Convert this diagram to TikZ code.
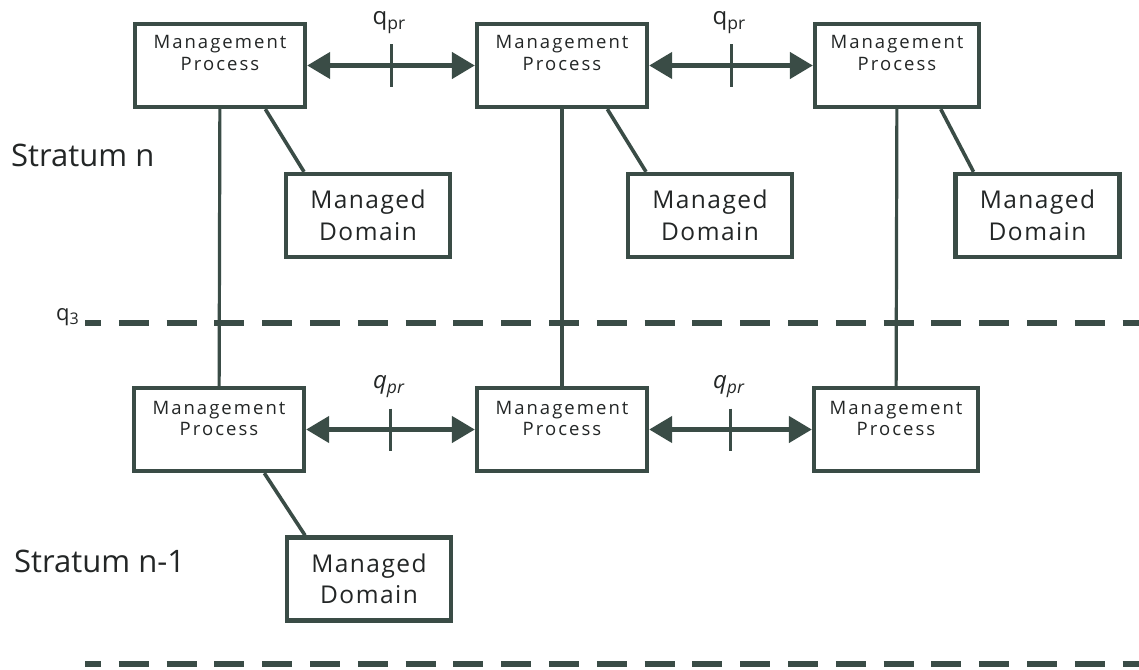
\documentclass[tikz,border=0pt]{standalone}
\usepackage{fontspec}
\setmainfont{Open Sans}
\usetikzlibrary{arrows.meta,calc}
\definecolor{ink}{RGB}{58,76,70}
\definecolor{txt}{RGB}{35,38,38}

\begin{document}
\begin{tikzpicture}[x=1pt,y=-1pt,
  box/.style={draw=ink, line width=4.3pt, fill=white, inner sep=0pt},
  mp/.style={box, minimum width=170pt, minimum height=83pt},
  md/.style={box, minimum width=164pt, minimum height=83pt,
    font=\fontsize{24.5}{31.5}\selectfont\addfontfeature{LetterSpace=6}, text=txt, align=center},
  mptext/.style={font=\fontsize{18.5}{21.5}\selectfont\addfontfeature{LetterSpace=11}, text=txt, align=center, inner sep=0pt, anchor=north},
  stratum/.style={font=\fontsize{31}{33}\selectfont, text=txt, anchor=base west, inner sep=0pt},
  qlab/.style={font=\fontsize{24}{26}\selectfont, text=txt, anchor=base, inner sep=0pt},
  link/.style={draw=ink, line width=3.2pt},
  diag/.style={draw=ink, line width=3.6pt},
  biarrow/.style={draw=ink, line width=4.5pt, {Triangle[length=23pt,width=26pt]}-{Triangle[length=23pt,width=26pt]}},
  tick/.style={draw=ink, line width=3pt},
  stratumline/.style={draw=ink, line width=6pt, dash pattern=on 30pt off 17.8pt, dash phase=14pt}
]
\useasboundingbox (0,0) rectangle (1139,669);

% stratum boundaries
\coordinate (q3a) at (85,323);
\coordinate (q3b) at (1150,323);
\coordinate (sba) at (85,664);
\coordinate (sbb) at (1150,664);
\draw[stratumline] (q3a) -- (q3b);
\draw[stratumline] (sba) -- (sbb);
\node[qlab, anchor=base east, font=\fontsize{22}{24}\selectfont] (q3) at (79,320) {q\raisebox{-0.2em}{\fontsize{16}{16}\selectfont 3}};

% stratum names
\node[stratum] (sn) at (11,166) {Stratum n};
\node[stratum] (sn1) at (14,572) {Stratum n-1};

% management processes, stratum n
\node[mp] (t1) at (220,65.5) {};
\node[mp] (t2) at (562,65.5) {};
\node[mp, minimum width=164pt] (t3) at (897,65.5) {};
% management processes, stratum n-1
\node[mp] (b1) at (219,429.5) {};
\node[mp] (b2) at (562,429.5) {};
\node[mp, minimum width=164pt] (b3) at (896,429.5) {};

% vertical links across the q3 boundary
\draw[link] (t1) -- (b1);
\draw[link] (t2) -- (b2);
\draw[link] (t3) -- (b3);

\foreach \n in {t1,t2,t3}{
  \node[mptext] (\n txt) at ($(\n.north)+(0,13.5)$) {Management\\Process};
}
\foreach \n in {b1,b2,b3}{
  \node[mptext] (\n txt) at ($(\n.north)+(0,15)$) {Management\\Process};
}

% managed domains
\node[md] (d1) at (368,215.5) {Managed\\Domain};
\node[md] (d2) at (710,215.5) {Managed\\Domain};
\node[md] (d3) at (1037.5,215.5) {Managed\\Domain};
\node[md] (d4) at (369,579) {Managed\\Domain};

\draw[diag] ($(t1.south west)!0.76!(t1.south east)$) -- ($(d1.north west)!0.12!(d1.north east)$);
\draw[diag] ($(t2.south west)!0.76!(t2.south east)$) -- ($(d2.north west)!0.12!(d2.north east)$);
\draw[diag] ($(t3.south west)!0.76!(t3.south east)$) -- ($(d3.north west)!0.12!(d3.north east)$);
\draw[diag] ($(b1.south west)!0.76!(b1.south east)$) -- ($(d4.north west)!0.12!(d4.north east)$);

% peer interfaces
\draw[biarrow] (t1) -- (t2);
\draw[biarrow] (t2) -- (t3);
\draw[biarrow] (b1) -- (b2);
\draw[biarrow] (b2) -- (b3);

\coordinate (m1) at ($(t1.east)!0.5!(t2.west)$);
\coordinate (m2) at ($(t2.east)!0.5!(t3.west)$);
\coordinate (m3) at ($(b1.east)!0.5!(b2.west)$);
\coordinate (m4) at ($(b2.east)!0.5!(b3.west)$);
\foreach \m in {m1,m2,m3,m4}{
  \draw[tick] ($(\m)+(0,-21)$) -- ($(\m)+(0,21)$);
}
\node[qlab] (p1) at ($(m1)+(-2,-41)$) {q\raisebox{-0.22em}{\fontsize{17.5}{17.5}\selectfont pr}};
\node[qlab] (p2) at ($(m2)+(-2,-41)$) {q\raisebox{-0.22em}{\fontsize{17.5}{17.5}\selectfont pr}};
\node[qlab] (p3) at ($(m3)+(-2,-41)$) {\itshape q\raisebox{-0.22em}{\fontsize{17.5}{17.5}\selectfont pr}};
\node[qlab] (p4) at ($(m4)+(-2,-41)$) {\itshape q\raisebox{-0.22em}{\fontsize{17.5}{17.5}\selectfont pr}};
\end{tikzpicture}
\end{document}
